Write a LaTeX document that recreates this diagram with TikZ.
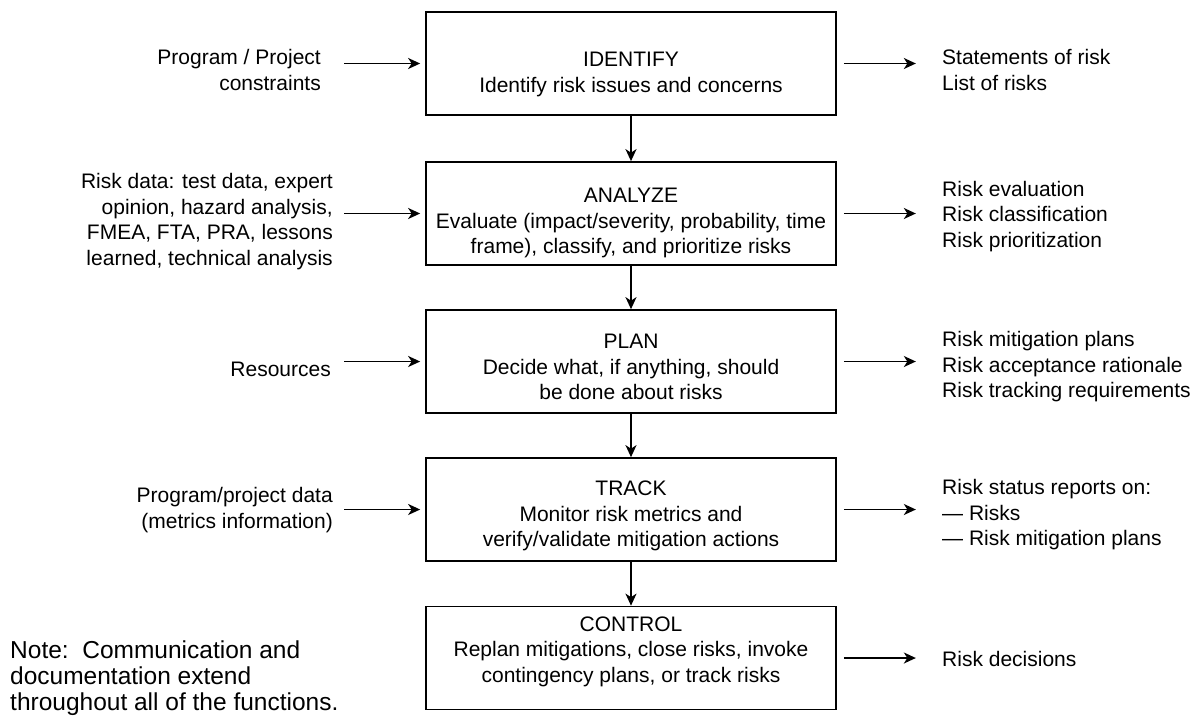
\documentclass[tikz,border=0pt]{standalone}
\usepackage{fontspec}
\setmainfont{Liberation Sans}
\usetikzlibrary{arrows.meta}
\begin{document}
\begin{tikzpicture}[x=1pt,y=-1pt,
  box/.style={draw, line width=1.7pt, minimum width=410pt, minimum height=103pt, inner sep=0pt},
  txt/.style={font=\fontsize{21}{25.5}\selectfont, inner sep=0pt},
  ctr/.style={txt, align=center},
  lft/.style={txt, align=left, anchor=west},
  rgt/.style={txt, align=right, anchor=east},
  arr/.style={line width=1.8pt, -{Stealth[length=12pt,width=11pt,inset=3.5pt]}}]
\useasboundingbox (0,0) rectangle (1193,724);

% boxes
\node[box] (identify) at (631,63.5) {};
\node[box] (analyze)  at (631,213.5) {};
\node[box] (plan)     at (631,361.5) {};
\node[box] (track)    at (631,509.5) {};
\node[box] (control)  at (631,658) {};

% box texts
\node[ctr] (identifyT) at (631,74.5) {IDENTIFY\\Identify risk issues and concerns};
\node[ctr] (analyzeT)  at (631,223) {ANALYZE\\Evaluate (impact/severity, probability, time\\frame), classify, and prioritize risks};
\node[ctr] (planT)     at (631,367) {PLAN\\Decide what, if anything, should\\be done about risks};
\node[ctr] (trackT)    at (631,516) {TRACK\\Monitor risk metrics and\\verify/validate mitigation actions};
\node[ctr] (controlT)  at (631,651.5) {CONTROL\\Replan mitigations, close risks, invoke\\contingency plans, or track risks};

% vertical arrows
\draw[arr] (identify) -- (analyze);
\draw[arr] (analyze) -- (plan);
\draw[arr] (plan) -- (track);
\draw[arr] (track) -- (control);

% inputs
\node[rgt] (in1) at (321,70) {Program / Project\\constraints};
\node[rgt] (in2) at (333,221.5) {Risk data: test data, expert\\opinion, hazard analysis,\\FMEA, FTA, PRA, lessons\\learned, technical analysis};
\node[rgt] (in3) at (331,369) {Resources};
\node[rgt] (in4) at (333,510) {Program/project data\\(metrics information)};

\foreach \b in {identify,analyze,plan,track}
  \draw[arr] ([xshift=-81pt]\b.west) -- ([xshift=-5pt]\b.west);

% outputs
\node[lft] (out1) at (942,70) {Statements of risk\\List of risks};
\node[lft] (out2) at (942,216.5) {Risk evaluation\\Risk classification\\Risk prioritization};
\node[lft] (out3) at (942,367) {Risk mitigation plans\\Risk acceptance rationale\\Risk tracking requirements};
\node[lft] (out4) at (942,515) {Risk status reports on:\\— Risks\\— Risk mitigation plans};
\node[lft] (out5) at (942,659) {Risk decisions};

\foreach \b in {identify,analyze,plan,track,control}
  \draw[arr] ([xshift=7pt]\b.east) -- ([xshift=79pt]\b.east);

% note
\node[lft, font=\fontsize{24.5}{26}\selectfont] (note) at (10,678) {Note:\ \ Communication and\\documentation extend\\throughout all of the functions.};
\end{tikzpicture}
\end{document}
